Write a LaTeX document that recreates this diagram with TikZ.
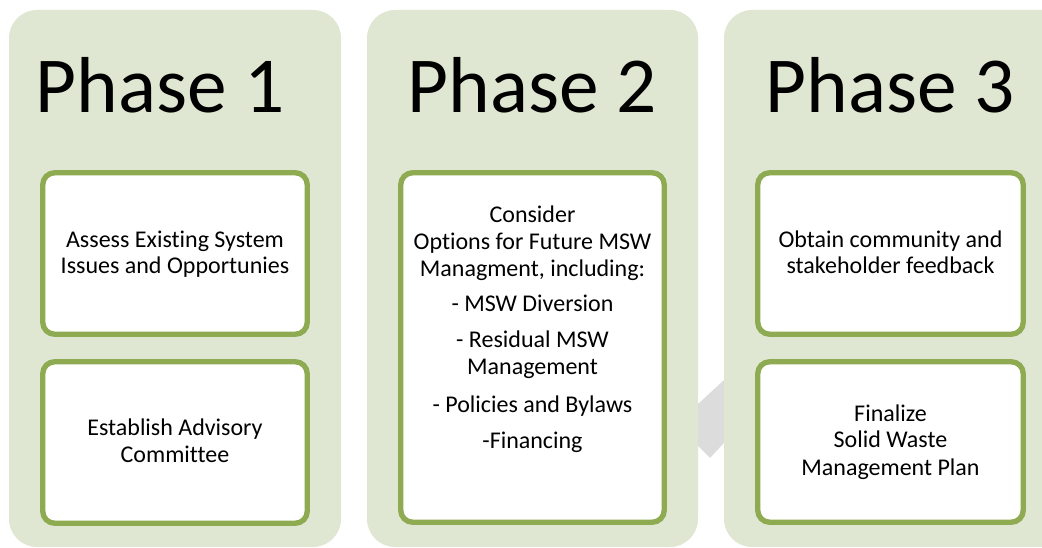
\documentclass[tikz,border=0pt]{standalone}
\usepackage{fontspec}
\setmainfont{Carlito}[Ligatures=CommonOff]
\definecolor{panelfill}{RGB}{223,231,210}
\definecolor{boxline}{RGB}{143,171,82}
\definecolor{arrowgrey}{RGB}{220,220,220}
\tikzset{
  panel/.style={fill=panelfill, draw=none, rounded corners=21pt},
  itembox/.style={fill=white, draw=boxline, line width=4pt, rounded corners=9pt},
  phase/.style={font=\fontsize{59.5}{66}\selectfont, inner sep=0pt, anchor=base},
  txt/.style={font=\fontsize{18}{21}\selectfont, inner sep=0pt, anchor=base}
}
\begin{document}
\begin{tikzpicture}[x=0.75pt,y=-0.75pt]
\useasboundingbox (0,0) rectangle (1042,548);
% grey arrow behind
\fill[arrowgrey] (690,411.3) -- (735,370) -- (735,431) -- (710,458) -- (690,438) -- cycle;
% panels
\fill[panel] (9,10) rectangle (341,547);
\fill[panel] (367,10) rectangle (698,547);
\fill[panel] (724,10) rectangle (1080,547);
% headings
\node[phase] (h1) at (160.5,113) {Phase 1};
\node[phase] (h2) at (532,113) {Phase 2};
\node[phase] (h3) at (890,113) {Phase 3};
% boxes
\draw[itembox] (42.75,172.75) rectangle (307.25,334.25);
\draw[itembox] (42.75,361.75) rectangle (307.25,523.25);
\draw[itembox] (400.75,172.75) rectangle (664.25,522.25);
\draw[itembox] (757.75,172.75) rectangle (1023.25,334.25);
\draw[itembox] (757.75,361.75) rectangle (1023.25,522.25);
% phase 1 texts
\node[txt] (a1) at (175,248) {Assess Existing System};
\node[txt] (a2) at (175,274) {Issues and Opportunies};
\node[txt] (b1) at (175,436) {Establish Advisory};
\node[txt] (b2) at (175,463) {Committee};
% phase 2 texts
\node[txt] (c1) at (532.5,223) {Consider};
\node[txt] (c2) at (532.5,250) {Options for Future MSW};
\node[txt] (c3) at (532.5,277) {Managment, including:};
\node[txt] (c4) at (532.5,312) {- MSW Diversion};
\node[txt] (c5) at (532.5,348) {- Residual MSW};
\node[txt] (c6) at (532.5,375) {Management};
\node[txt] (c7) at (532.5,413) {- Policies and Bylaws};
\node[txt] (c8) at (532.5,449) {-Financing};
% phase 3 texts
\node[txt] (d1) at (890.5,248) {Obtain community and};
\node[txt] (d2) at (890.5,274) {stakeholder feedback};
\node[txt] (e1) at (890.5,422) {Finalize};
\node[txt] (e2) at (890.5,448) {Solid Waste};
\node[txt] (e3) at (890.5,475) {Management Plan};
\end{tikzpicture}
\end{document}
